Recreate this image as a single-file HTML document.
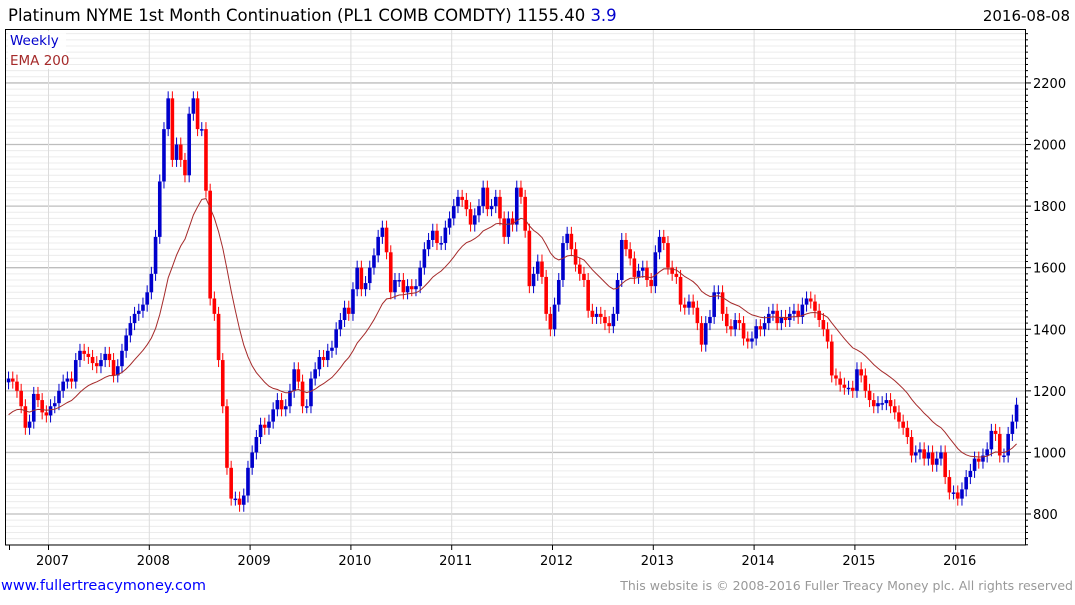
<!DOCTYPE html>
<html><head><meta charset="utf-8">
<style>
html,body{margin:0;padding:0;background:#fff;}
body{width:1075px;height:600px;overflow:hidden;font-family:"Liberation Sans",sans-serif;}
svg text{font-family:"DejaVu Sans","Liberation Sans",sans-serif;}
</style></head>
<body>
<svg id="chart" width="1075" height="600" viewBox="0 0 1075 600" xmlns="http://www.w3.org/2000/svg">
<text x="8" y="21" font-size="16.5" fill="#000">Platinum NYME 1st Month Continuation (PL1 COMB COMDTY) 1155.40 <tspan fill="#0000cc">3.9</tspan></text>
<text x="1070" y="21" font-size="15" fill="#000" text-anchor="end">2016-08-08</text>
<g id="grid"></g>
<g id="bars"></g>
<path id="ema" fill="none" stroke="#a52a2a" stroke-width="1"/>
<rect x="5.5" y="29.5" width="1020" height="515.5" fill="none" stroke="#000" stroke-width="1"/>
<g id="axes"></g>
<rect x="8" y="31" width="58" height="38" fill="#fff" opacity="0.85"/>
<text x="10" y="45" font-size="13.5" fill="#0000cc">Weekly</text>
<text x="10" y="65" font-size="13.5" fill="#a52a2a">EMA 200</text>
<text x="1" y="590" font-size="14.5" fill="#0000ff">www.fullertreacymoney.com</text>
<text x="1073" y="590" font-size="12.5" fill="#999" text-anchor="end">This website is © 2008-2016 Fuller Treacy Money plc. All rights reserved</text>
</svg>
<script>
const startYear = 2006.583;
const stepYears = 1/24;
const closes = [
1240,1230,1200,1150,1080,1100,1190,1170,1130,1120,
1150,1160,1200,1230,1240,1230,1300,1330,1320,1310,1290,1280,1300,1320,1300,1250,1280,1330,1380,1420,1450,1460,1480,1520,
1580,1700,1880,2050,2150,1950,2000,1950,1900,2100,2150,2050,2050,1850,1500,1450,1300,1150,950,850,850,830,860,950,
1000,1050,1090,1080,1100,1140,1170,1140,1150,1200,1270,1230,1150,1150,1240,1270,1310,1300,1330,1340,1400,1430,1470,1450,
1530,1600,1530,1550,1600,1640,1700,1730,1650,1520,1560,1560,1520,1540,1530,1540,1600,1660,1690,1720,1680,1680,1730,1760,
1800,1830,1820,1790,1740,1770,1800,1860,1790,1800,1830,1760,1700,1760,1740,1860,1830,1720,1540,1580,1620,1570,1450,1400,
1480,1560,1680,1710,1660,1610,1580,1560,1460,1440,1450,1440,1420,1410,1450,1560,1690,1660,1630,1570,1590,1600,1560,1540,
1650,1700,1680,1600,1580,1570,1480,1470,1490,1470,1420,1350,1420,1440,1520,1520,1450,1410,1400,1430,1420,1370,1360,1370,
1410,1400,1420,1450,1460,1420,1440,1430,1450,1460,1440,1480,1500,1490,1460,1430,1400,1360,1250,1240,1220,1210,1210,1200,
1270,1250,1200,1170,1150,1160,1160,1170,1150,1130,1100,1080,1050,990,1000,1010,980,1000,960,980,1000,920,870,870,
850,880,920,940,980,970,990,1010,1070,1060,990,990,1060,1100,1155
];
const emaSeed = 1110;
const emaPeriod = 20;
const yTicks = [800,1000,1200,1400,1600,1800,2000,2200];
const yearTicks = [2007,2008,2009,2010,2011,2012,2013,2014,2015,2016];

const NS = "http://www.w3.org/2000/svg";
function xScale(t){ return 48.5 + (t-2007)*100.8; }
function yScale(v){ return 514 - (v-800)*0.3079; }
function mk(tag, attrs, parent){ const e=document.createElementNS(NS,tag); for(const k in attrs) e.setAttribute(k,attrs[k]); parent.appendChild(e); return e; }

const grid=document.getElementById('grid'), axes=document.getElementById('axes'), bars=document.getElementById('bars');
for(let v=700; v<=2380; v+=20){
  const y=yScale(v); if(y<30||y>545) continue;
  const major = v%200===0;
  const l=mk('line',{x1:6,x2:1025,y1:y,y2:y,stroke:major?'#bdbdbd':'#ececec','stroke-width':major?1.3:1},grid);
  
  
  const tk=mk('line',{x1:1025,x2:major?1031:1028,y1:y,y2:y,stroke:'#000','stroke-width':1},axes);
  
  
}
yTicks.forEach(v=>{
  const t=mk('text',{x:1033,y:yScale(v)+5,'font-size':13,fill:'#000'},axes);
  t.textContent=v;
  
  
});
yearTicks.forEach(yr=>{
  const x=xScale(yr);
  const g=mk('line',{x1:x,x2:x,y1:30,y2:545,stroke:'#dcdcdc','stroke-width':1},grid);
  
  
  const tk=mk('line',{x1:x,x2:x,y1:545,y2:550,stroke:'#000','stroke-width':1},axes);
  
  
  const t=mk('text',{x:x+4,y:565,'font-size':13,fill:'#000','text-anchor':'middle'},axes);
  t.textContent=yr;
  
  
});
const tk0=mk('line',{x1:9.5,x2:9.5,y1:545,y2:550,stroke:'#000'},axes);



let prev=closes[0]*0.99;
let ema=emaSeed; const alpha=2/(emaPeriod+1); let d='';
closes.forEach((c,i)=>{
  const t=startYear+(i+0.5)*stepYears; const x=xScale(t);
  const up=c>=prev; const col=up?'#0000cc':'#ff0000';
  const hi=Math.max(c,prev), lo=Math.min(c,prev);
  const w=mk('line',{x1:x,x2:x,y1:yScale(hi)-7,y2:yScale(lo)+7,stroke:col,'stroke-width':1},bars);
  
  
  const b=mk('rect',{x:x-1.8,y:yScale(hi),width:3.6,height:Math.max(1.5,yScale(lo)-yScale(hi)),fill:col},bars);
  
  
  prev=c;
  ema = ema + alpha*(c-ema);
  d += (i?'L':'M')+x.toFixed(1)+','+yScale(ema).toFixed(1);
});
document.getElementById('ema').setAttribute('d',d);
</script>
</body></html>
